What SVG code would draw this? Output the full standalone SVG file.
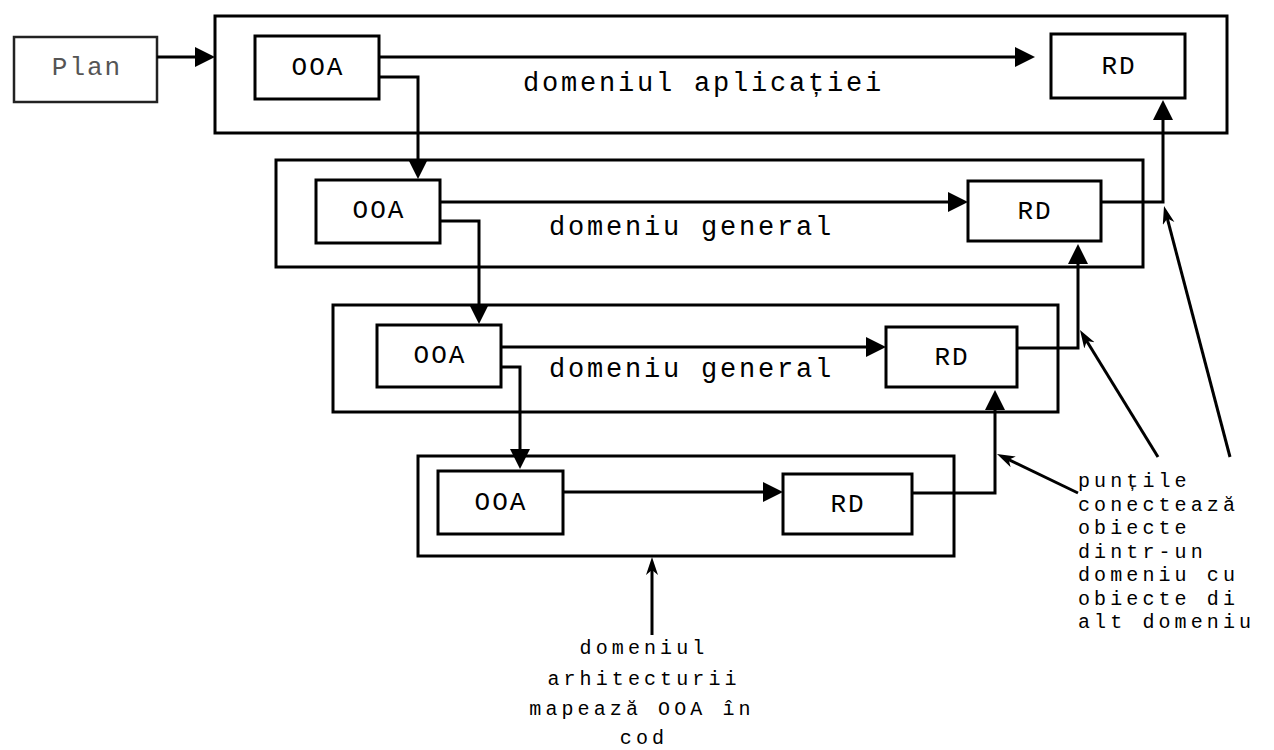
<svg xmlns="http://www.w3.org/2000/svg" width="1274" height="750" viewBox="0 0 1274 750">
  <defs>
    <marker id="arr" markerUnits="userSpaceOnUse" markerWidth="22" markerHeight="22" refX="10" refY="10" orient="auto">
      <path d="M0,0 L20,10 L0,20 Z" fill="#000"/>
    </marker>
    <marker id="barb" markerUnits="userSpaceOnUse" markerWidth="20" markerHeight="14" refX="9" refY="6" orient="auto">
      <path d="M0,0 L18,6 L0,12 L5,6 Z" fill="#000"/>
    </marker>
  </defs>
  <style>
    .frame { fill: none; stroke: #000; stroke-width: 3; }
    .box { fill: #fff; stroke: #000; stroke-width: 3; }
    .plan { fill: #fff; stroke: #222; stroke-width: 2.5; }
    .lbl { font-family: "Liberation Mono", "Courier New", monospace; font-size: 26px; letter-spacing: 2px; fill: #000; text-anchor: middle; }
    .dom { font-family: "Liberation Mono", "Courier New", monospace; font-size: 27px; letter-spacing: 2.8px; fill: #000; }
    .note { font-family: "Liberation Mono", "Courier New", monospace; font-size: 20px; letter-spacing: 4.1px; fill: #000; }
    .wire { fill: none; stroke: #000; stroke-width: 3; }
    .ptr { fill: none; stroke: #000; stroke-width: 3; }
  </style>
  <rect width="1274" height="750" fill="#fff"/>

  <!-- domain frames -->
  <g id="domain-application">
    <rect class="frame" x="215" y="16" width="1012" height="117"/>
    <text class="dom" x="523" y="91">domeniul aplicației</text>
  </g>
  <g id="domain-general-1">
    <rect class="frame" x="276" y="160" width="867" height="107"/>
    <text class="dom" x="549" y="235">domeniu general</text>
  </g>
  <g id="domain-general-2">
    <rect class="frame" x="333" y="305" width="725" height="107"/>
    <text class="dom" x="549" y="377">domeniu general</text>
  </g>
  <g id="domain-architecture">
    <rect class="frame" x="418" y="456" width="536" height="100"/>
  </g>

  <!-- plan -->
  <g id="plan">
    <rect class="plan" x="14" y="37" width="143" height="65"/>
    <text class="lbl" x="87" y="75" style="fill:#555">Plan</text>
  </g>

  <!-- analysis / design nodes -->
  <g id="ooa-1">
    <rect class="box" x="255" y="36" width="124" height="63"/>
    <text class="lbl" x="318" y="75">OOA</text>
  </g>
  <g id="rd-1">
    <rect class="box" x="1051" y="34" width="134" height="64"/>
    <text class="lbl" x="1119" y="74">RD</text>
  </g>
  <g id="ooa-2">
    <rect class="box" x="316" y="180" width="124" height="63"/>
    <text class="lbl" x="379" y="218">OOA</text>
  </g>
  <g id="rd-2">
    <rect class="box" x="968" y="181" width="133" height="60"/>
    <text class="lbl" x="1035" y="219">RD</text>
  </g>
  <g id="ooa-3">
    <rect class="box" x="377" y="325" width="124" height="62"/>
    <text class="lbl" x="440" y="363">OOA</text>
  </g>
  <g id="rd-3">
    <rect class="box" x="886" y="327" width="131" height="60"/>
    <text class="lbl" x="952" y="365">RD</text>
  </g>
  <g id="ooa-4">
    <rect class="box" x="438" y="471" width="125" height="63"/>
    <text class="lbl" x="501" y="510">OOA</text>
  </g>
  <g id="rd-4">
    <rect class="box" x="783" y="474" width="129" height="60"/>
    <text class="lbl" x="848" y="512">RD</text>
  </g>

  <!-- annotations -->
  <g id="note-bridges">
    <text class="note" x="1078" y="487">punțile</text>
    <text class="note" x="1078" y="510.5">conectează</text>
    <text class="note" x="1078" y="534">obiecte</text>
    <text class="note" x="1078" y="557.5">dintr-un</text>
    <text class="note" x="1078" y="581">domeniu cu</text>
    <text class="note" x="1078" y="604.5">obiecte di</text>
    <text class="note" x="1078" y="628">alt domeniu</text>
  </g>
  <g id="note-architecture">
    <text class="note" x="644" y="654" text-anchor="middle">domeniul</text>
    <text class="note" x="644" y="685" text-anchor="middle">arhitecturii</text>
    <text class="note" x="642" y="715" text-anchor="middle">mapează OOA în</text>
    <text class="note" x="644" y="744" text-anchor="middle">cod</text>
  </g>

  <!-- connectors -->
  <g id="connectors">
    <path class="wire" d="M157,57 H205" marker-end="url(#arr)"/>
    <path class="wire" d="M379,57 H1025" marker-end="url(#arr)"/>
    <path class="wire" d="M440,202 H958" marker-end="url(#arr)"/>
    <path class="wire" d="M501,347 H876" marker-end="url(#arr)"/>
    <path class="wire" d="M563,492 H773" marker-end="url(#arr)"/>

    <path class="wire" d="M379,77 H418 V169" marker-end="url(#arr)"/>
    <path class="wire" d="M440,221 H479 V314" marker-end="url(#arr)"/>
    <path class="wire" d="M501,367 H520 V459" marker-end="url(#arr)"/>

    <path class="wire" d="M1101,202 H1163 V110" marker-end="url(#arr)"/>
    <path class="wire" d="M1017,348 H1078 V254" marker-end="url(#arr)"/>
    <path class="wire" d="M912,493 H995 V400" marker-end="url(#arr)"/>

    <path class="ptr" d="M1078,493 L1005.1,457.9" marker-end="url(#barb)"/>
    <path class="ptr" d="M1158,457 L1084.7,337.7" marker-end="url(#barb)"/>
    <path class="ptr" d="M1230,457 L1166.3,214.7" marker-end="url(#barb)"/>
    <path class="ptr" d="M652,635 V566" marker-end="url(#barb)"/>
  </g>
</svg>
